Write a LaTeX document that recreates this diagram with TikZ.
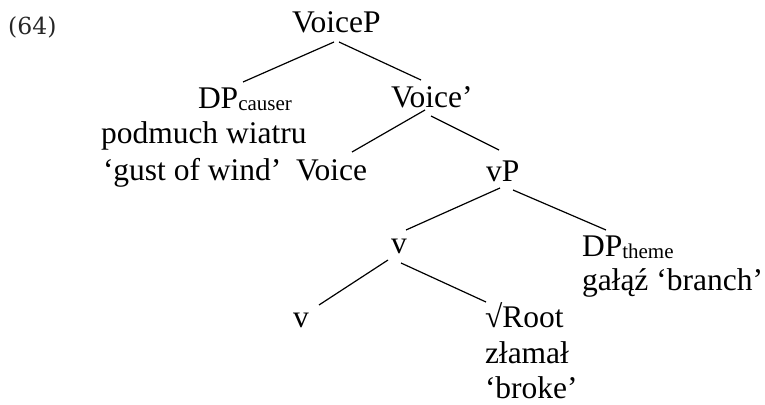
\documentclass[tikz,border=0pt]{standalone}
\usepackage{fontspec}
\setmainfont{Liberation Serif}
\newfontfamily\numfont{DejaVu Serif}
\begin{document}
\begin{tikzpicture}[x=1pt,y=-1pt,
  lbl/.style={anchor=base west,inner sep=0pt,outer sep=0pt,
    font=\fontsize{31.5}{36}\selectfont},
  branch/.style={line width=1.2pt}]
\useasboundingbox (0,0) rectangle (765,404);
\newcommand{\subtxt}[1]{\raisebox{-2pt}{\fontsize{21}{21}\selectfont #1}}

% example number
\node[anchor=base west,inner sep=0pt,font=\numfont\fontsize{23.5}{28}\selectfont,text=black!85] (ex) at (8,35) {(64)};

% tree labels
\node[lbl] (voicep)   at (292,33)  {VoiceP};
\node[lbl] (dpc)      at (198,108) {DP\subtxt{causer}};
\node[lbl] (podmuch)  at (101,143) {podmuch wiatru};
\node[lbl] (gust)     at (103,180) {‘gust of wind’};
\node[lbl] (voice)    at (296,180) {Voice};
\node[lbl] (voicebar) at (391,107) {Voice’};
\node[lbl] (vp)       at (486,181) {vP};
\node[lbl] (vmid)     at (391,253) {v};
\node[lbl] (dpt)      at (582,256) {DP\subtxt{theme}};
\node[lbl] (galaz)    at (582,290) {gałąź ‘branch’};
\node[lbl] (vlow)     at (293,327) {v};
\node[lbl] (root)     at (485,327) {√Root};
\node[lbl] (zlamal)   at (485,363) {złamał};
\node[lbl] (broke)    at (485,398) {‘broke’};

% branches
\draw[branch] ([shift={(42,9)}]voicep.base west)   -- ([shift={(45,-26)}]dpc.base west);
\draw[branch] ([shift={(47,9)}]voicep.base west)   -- ([shift={(30,-27)}]voicebar.base west);
\draw[branch] ([shift={(34,3)}]voicebar.base west) -- ([shift={(56,-28)}]voice.base west);
\draw[branch] ([shift={(40,9)}]voicebar.base west) -- ([shift={(13,-31)}]vp.base west);
\draw[branch] ([shift={(14,7)}]vp.base west)       -- ([shift={(15,-23)}]vmid.base west);
\draw[branch] ([shift={(27,9)}]vp.base west)       -- ([shift={(24,-26)}]dpt.base west);
\draw[branch] ([shift={(-3,7)}]vmid.base west)     -- ([shift={(26,-22)}]vlow.base west);
\draw[branch] ([shift={(10,10)}]vmid.base west)    -- ([shift={(1,-25)}]root.base west);
\end{tikzpicture}
\end{document}
